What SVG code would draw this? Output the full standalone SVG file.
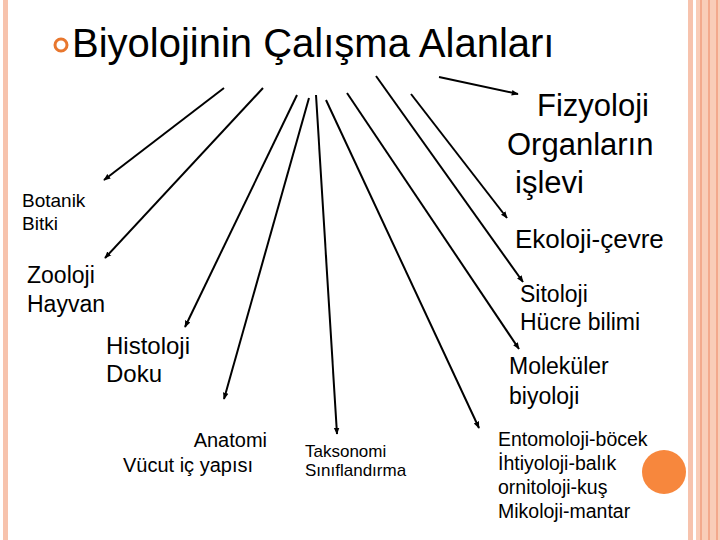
<svg xmlns="http://www.w3.org/2000/svg" width="720" height="540" viewBox="0 0 720 540">
<defs>
<marker id="ah" viewBox="0 0 10 10" refX="9" refY="5" markerWidth="7" markerHeight="7" orient="auto" markerUnits="userSpaceOnUse"><path d="M0,1 L10,5 L0,9 z" fill="#000"/></marker>
<style>
text{font-family:"Liberation Sans",Arial,sans-serif;fill:#000}
.c line{stroke:#000;stroke-width:2;marker-end:url(#ah)}
</style>
</defs>
<rect width="720" height="540" fill="#fff"/>
<rect x="3" y="0" width="5" height="540" fill="#f7c3ad"/>
<rect x="688" y="0" width="5" height="540" fill="#f7c3ad"/>
<rect x="696" y="0" width="24" height="540" fill="#f9cdb8"/>
<rect x="700" y="0" width="2" height="540" fill="#f3a98c"/>
<rect x="708" y="0" width="2" height="540" fill="#f3a98c"/>
<rect x="716" y="0" width="2" height="540" fill="#f3a98c"/>
<g id="title"><circle cx="61" cy="45" r="6" fill="none" stroke="#e8772e" stroke-width="3"/><text x="72" y="57" font-size="40">Biyolojinin Çalışma Alanları</text></g>
<g class="c" id="connectors">
<line x1="224" y1="88" x2="104" y2="180"/>
<line x1="263" y1="88" x2="105" y2="258"/>
<line x1="297" y1="95" x2="185" y2="327"/>
<line x1="309" y1="98" x2="224" y2="399"/>
<line x1="316" y1="95" x2="337" y2="434"/>
<line x1="326" y1="100" x2="479" y2="428"/>
<line x1="347" y1="93" x2="519" y2="349"/>
<line x1="376" y1="76" x2="523" y2="282"/>
<line x1="411" y1="94" x2="507" y2="218"/>
<line x1="439" y1="77" x2="518" y2="94"/>
</g>
<g id="fizyoloji"><text x="537" y="116" font-size="31">Fizyoloji</text><text x="507" y="155" font-size="31">Organların</text><text x="515" y="193" font-size="31">işlevi</text></g>
<g id="botanik"><text x="22" y="207" font-size="19">Botanik</text><text x="22" y="230" font-size="19">Bitki</text></g>
<g id="ekoloji"><text x="515" y="248" font-size="26">Ekoloji-çevre</text></g>
<g id="zooloji"><text x="27" y="283" font-size="23">Zooloji</text><text x="27" y="312" font-size="23">Hayvan</text></g>
<g id="sitoloji"><text x="520" y="302" font-size="23">Sitoloji</text><text x="520" y="330" font-size="23">Hücre bilimi</text></g>
<g id="histoloji"><text x="106" y="354" font-size="24">Histoloji</text><text x="106" y="382" font-size="24">Doku</text></g>
<g id="molekuler"><text x="509" y="374" font-size="23">Moleküler</text><text x="509" y="404" font-size="23">biyoloji</text></g>
<g id="anatomi"><text x="267" y="447" font-size="20" text-anchor="end">Anatomi</text><text x="253" y="472" font-size="20" text-anchor="end">Vücut iç yapısı</text></g>
<g id="taksonomi"><text x="305" y="457" font-size="17">Taksonomi</text><text x="305" y="476" font-size="17">Sınıflandırma</text></g>
<g id="entomoloji"><text x="498" y="446" font-size="19.5">Entomoloji-böcek</text><text x="498" y="470" font-size="19.5">İhtiyoloji-balık</text><text x="498" y="494" font-size="19.5">ornitoloji-kuş</text><text x="498" y="518" font-size="19.5">Mikoloji-mantar</text></g>
<circle cx="664" cy="472" r="22" fill="#f7873d"/>
</svg>
